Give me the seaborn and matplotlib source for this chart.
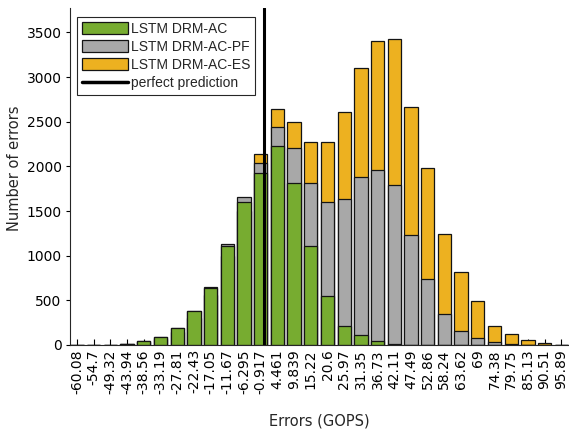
import numpy as np
import pandas as pd
import matplotlib
matplotlib.use("Agg")
import matplotlib.pyplot as plt
import seaborn as sns
from matplotlib.patches import Patch
from matplotlib.lines import Line2D

# Error histogram bins (GOPS) and their tick labels
bin_centers = [-60.08, -54.7, -49.32, -43.94, -38.56, -33.19, -27.81, -22.43,
               -17.05, -11.67, -6.295, -0.917, 4.461, 9.839, 15.22, 20.6,
               25.97, 31.35, 36.73, 42.11, 47.49, 52.86, 58.24, 63.62, 69,
               74.38, 79.75, 85.13, 90.51, 95.89]
bin_labels = ["-60.08", "-54.7", "-49.32", "-43.94", "-38.56", "-33.19",
              "-27.81", "-22.43", "-17.05", "-11.67", "-6.295", "-0.917",
              "4.461", "9.839", "15.22", "20.6", "25.97", "31.35", "36.73",
              "42.11", "47.49", "52.86", "58.24", "63.62", "69", "74.38",
              "79.75", "85.13", "90.51", "95.89"]

# Number of errors per bin for each model
count_ac = [3, 2, 3, 10, 45, 93, 187, 380, 641, 1111, 1597, 1928, 2227, 1816,
            1104, 548, 213, 112, 41, 11, 2, 0, 0, 0, 0, 0, 0, 0, 0, 0]
count_pf = [3, 2, 3, 10, 45, 93, 190, 382, 649, 1134, 1653, 2037, 2443, 2204,
            1809, 1604, 1630, 1877, 1955, 1787, 1228, 735, 347, 160, 82, 30,
            6, 3, 2, 1]
count_es = [2, 1, 2, 6, 30, 70, 150, 300, 560, 1000, 1500, 2137, 2644, 2499,
            2275, 2275, 2604, 3100, 3402, 3421, 2667, 1977, 1245, 813, 489,
            216, 120, 54, 17, 3]

series_names = ["LSTM DRM-AC", "LSTM DRM-AC-PF", "LSTM DRM-AC-ES"]
GREEN = "#77AC30"
GRAY = "#A8A8A8"
ORANGE = "#EDB120"
EDGE = "#141414"

sns.set_style("ticks")
plt.rcParams["font.family"] = ["DejaVu Sans"]

df = pd.DataFrame({"bin": bin_labels, "AC": count_ac,
                   "PF": count_pf, "ES": count_es})

fig = plt.figure(figsize=(5.69, 4.32), dpi=100)
ax = fig.add_axes([70 / 569, (432 - 345) / 432, 499 / 569, 336.7 / 432])

# Overlaid (not stacked) bars: widest distribution at the back
for col, color in [("ES", ORANGE), ("PF", GRAY), ("AC", GREEN)]:
    sns.barplot(data=df, x="bin", y=col, order=bin_labels, color=color,
                saturation=1, errorbar=None, width=0.8, edgecolor=EDGE,
                linewidth=0.9, ax=ax)

# Zero-error reference line placed on the categorical axis
zero_pos = float(np.interp(0.0, bin_centers, np.arange(len(bin_centers))))
ax.axvline(zero_pos, color="black", linewidth=2.2, zorder=5)

ax.set_xlim(-0.42, 29.46)
ax.set_ylim(0, 3770)
ax.set_yticks(np.arange(0, 3501, 500))

ax.tick_params(axis="x", direction="in", length=4, width=0.8, pad=3,
               labelsize=10, labelrotation=90, colors="black")
ax.tick_params(axis="y", direction="out", length=3, width=0.8, pad=3,
               labelsize=10, colors="black")

sns.despine(ax=ax)
for side in ("left", "bottom"):
    ax.spines[side].set_color("#262626")
    ax.spines[side].set_linewidth(0.8)

ax.set_xlabel("Errors (GOPS)", fontsize=10.5)
ax.set_ylabel("Number of errors", fontsize=10.5)
ax.xaxis.set_label_coords(0.5, -0.202)
ax.yaxis.set_label_coords(-0.096, 0.525)

handles = [Patch(facecolor=GREEN, edgecolor=EDGE, linewidth=0.9),
           Patch(facecolor=GRAY, edgecolor=EDGE, linewidth=0.9),
           Patch(facecolor=ORANGE, edgecolor=EDGE, linewidth=0.9),
           Line2D([0], [0], color="black", linewidth=2.5)]
labels = series_names + ["perfect prediction"]
leg = ax.legend(handles, labels, loc="upper left",
                bbox_to_anchor=(0.014, 0.974), borderaxespad=0,
                prop={"family": "Liberation Sans", "size": 10},
                handlelength=3.3, handleheight=0.95, handletextpad=0.25,
                labelspacing=0.3, borderpad=0.35, fancybox=False,
                framealpha=1, edgecolor="#262626")
leg.get_frame().set_linewidth(0.8)

fig.savefig("out.png", dpi=100)
